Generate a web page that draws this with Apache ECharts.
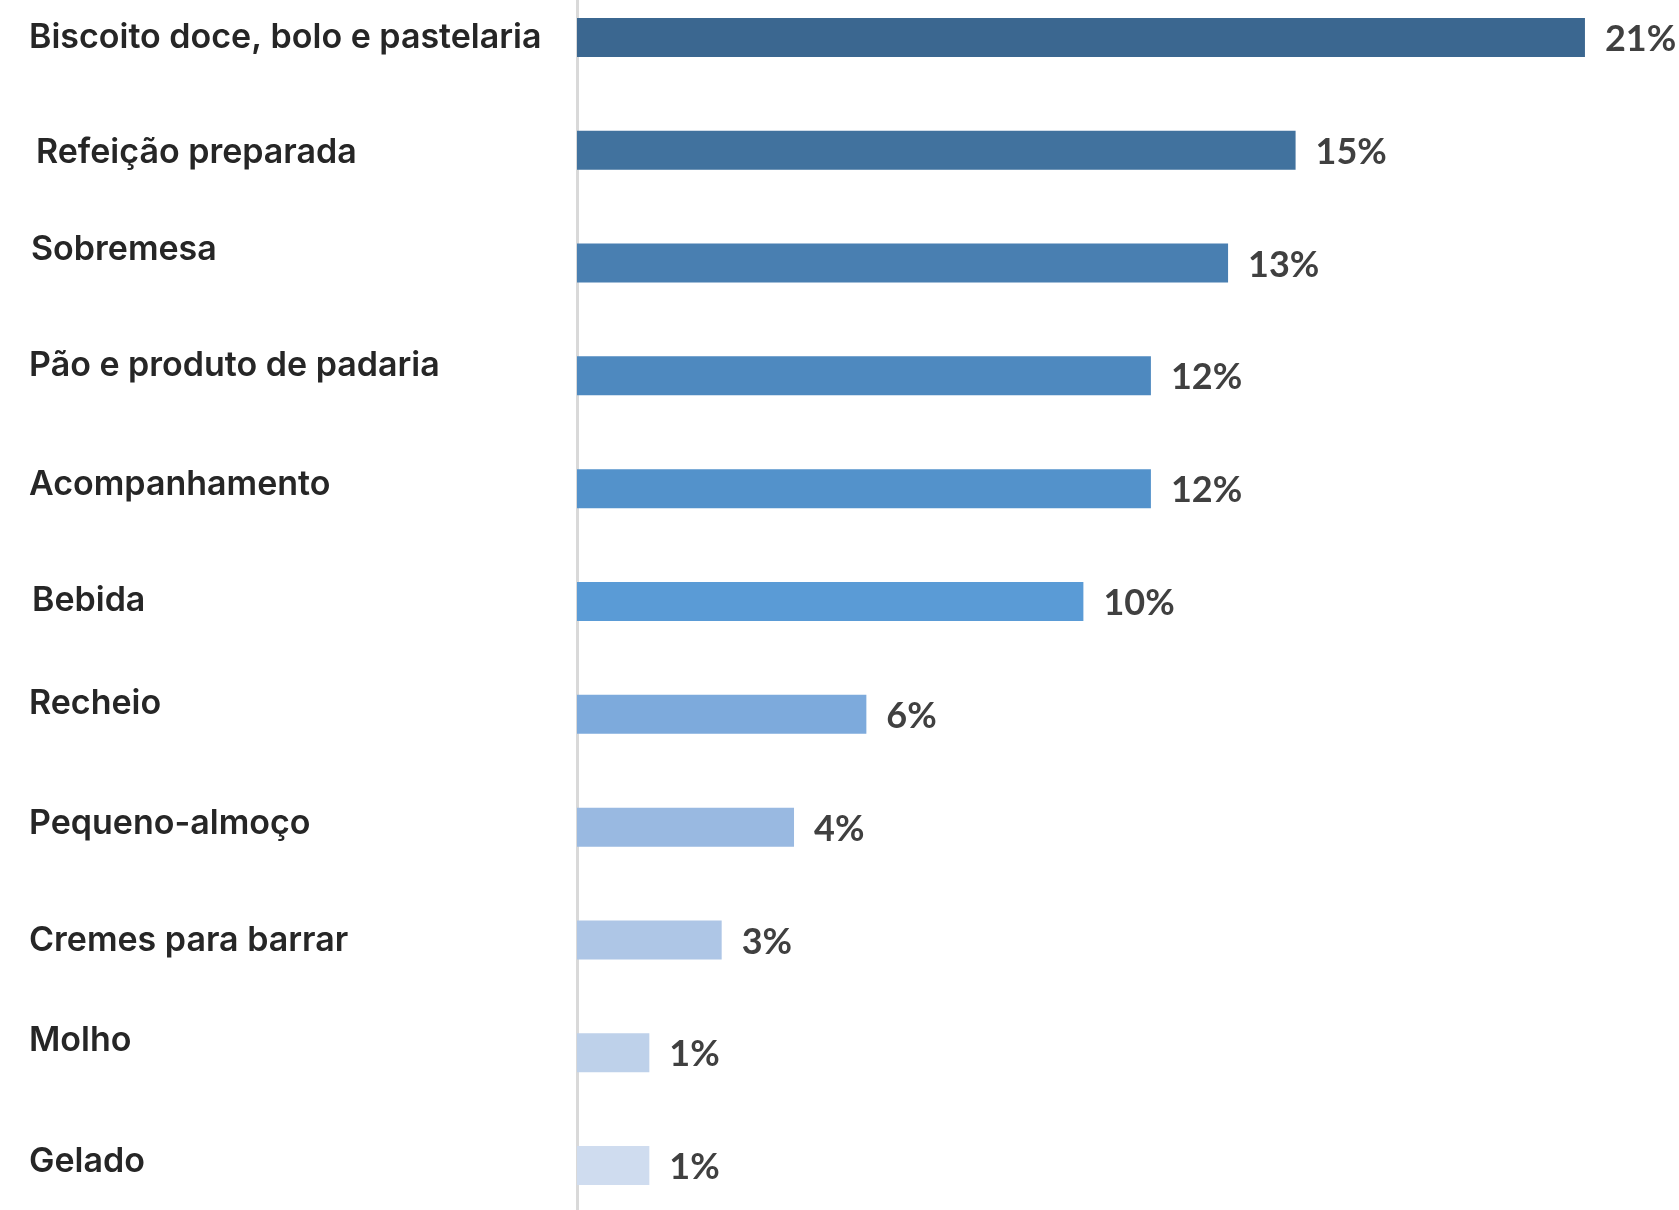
<!DOCTYPE html>
<html>
<head>
<meta charset="utf-8">
<script src="https://cdn.jsdelivr.net/npm/echarts@6/dist/echarts.min.js"></script>
<style>
html,body{margin:0;padding:0;background:#fff;}
#chart{width:1679px;height:1210px;}
</style>
</head>
<body>
<div id="chart"></div>
<script>
// Data
var categories = [
  'Biscoito doce, bolo e pastelaria',
  'Refeição preparada',
  'Sobremesa',
  'Pão e produto de padaria',
  'Acompanhamento',
  'Bebida',
  'Recheio',
  'Pequeno-almoço',
  'Cremes para barrar',
  'Molho',
  'Gelado'
];
var values = [20.9, 14.9, 13.5, 11.9, 11.9, 10.5, 6.0, 4.5, 3.0, 1.5, 1.5];
var valueLabels = ['21%', '15%', '13%', '12%', '12%', '10%', '6%', '4%', '3%', '1%', '1%'];

// Styles
var barColors = ['#3B6790', '#41729E', '#497FB1', '#4E89BF', '#5392CB', '#5A9BD6',
                 '#7DAADC', '#99B9E1', '#AEC6E6', '#BED1EA', '#CFDCEF'];
// vertical nudge (px, negative = up) and left indent for category labels
var labelNudgeY = [0, 3, -13, -10, -4, -1, -11, -3, 1, -12, -4];
var labelIndentX = [0, 7, 2, 0, 0, 3, 0, 0, 0, 0, 0];

var catFont = {
  color: '#262626',
  fontFamily: 'Inter',
  fontWeight: 600,
  fontSize: 34
};

var richStyles = {};
categories.forEach(function (c, i) {
  var d = labelNudgeY[i];
  richStyles['r' + i] = Object.assign({}, catFont, {
    padding: [d > 0 ? 2 * d : 0, 0, d < 0 ? -2 * d : 0, labelIndentX[i]]
  });
});

var chart = echarts.init(document.getElementById('chart'), null, {renderer: 'canvas'});
chart.setOption({
  animation: false,
  backgroundColor: '#ffffff',
  grid: {left: 577, right: 41, top: -19, bottom: -12, containLabel: false, outerBoundsMode: 'none'},
  xAxis: {
    type: 'value',
    min: 0,
    max: 22,
    show: false
  },
  yAxis: {
    type: 'category',
    inverse: true,
    data: categories,
    axisLine: {show: true, lineStyle: {color: '#D9D9D9', width: 3}},
    axisTick: {show: false},
    axisLabel: Object.assign({
      margin: 548,
      align: 'left',
      verticalAlign: 'middle',
      formatter: function (value, index) { return '{r' + index + '|' + value + '}'; },
      rich: richStyles
    }, catFont)
  },
  series: [{
    type: 'bar',
    barWidth: 39,
    data: values.map(function (v, i) {
      return {value: v, itemStyle: {color: barColors[i]}};
    }),
    label: {
      show: true,
      position: 'right',
      distance: 20,
      offset: [0, 2],
      color: '#404040',
      fontFamily: 'Lato',
      fontWeight: 'bold',
      fontSize: 36,
      formatter: function (p) { return valueLabels[p.dataIndex]; }
    }
  }]
});
</script>
</body>
</html>
